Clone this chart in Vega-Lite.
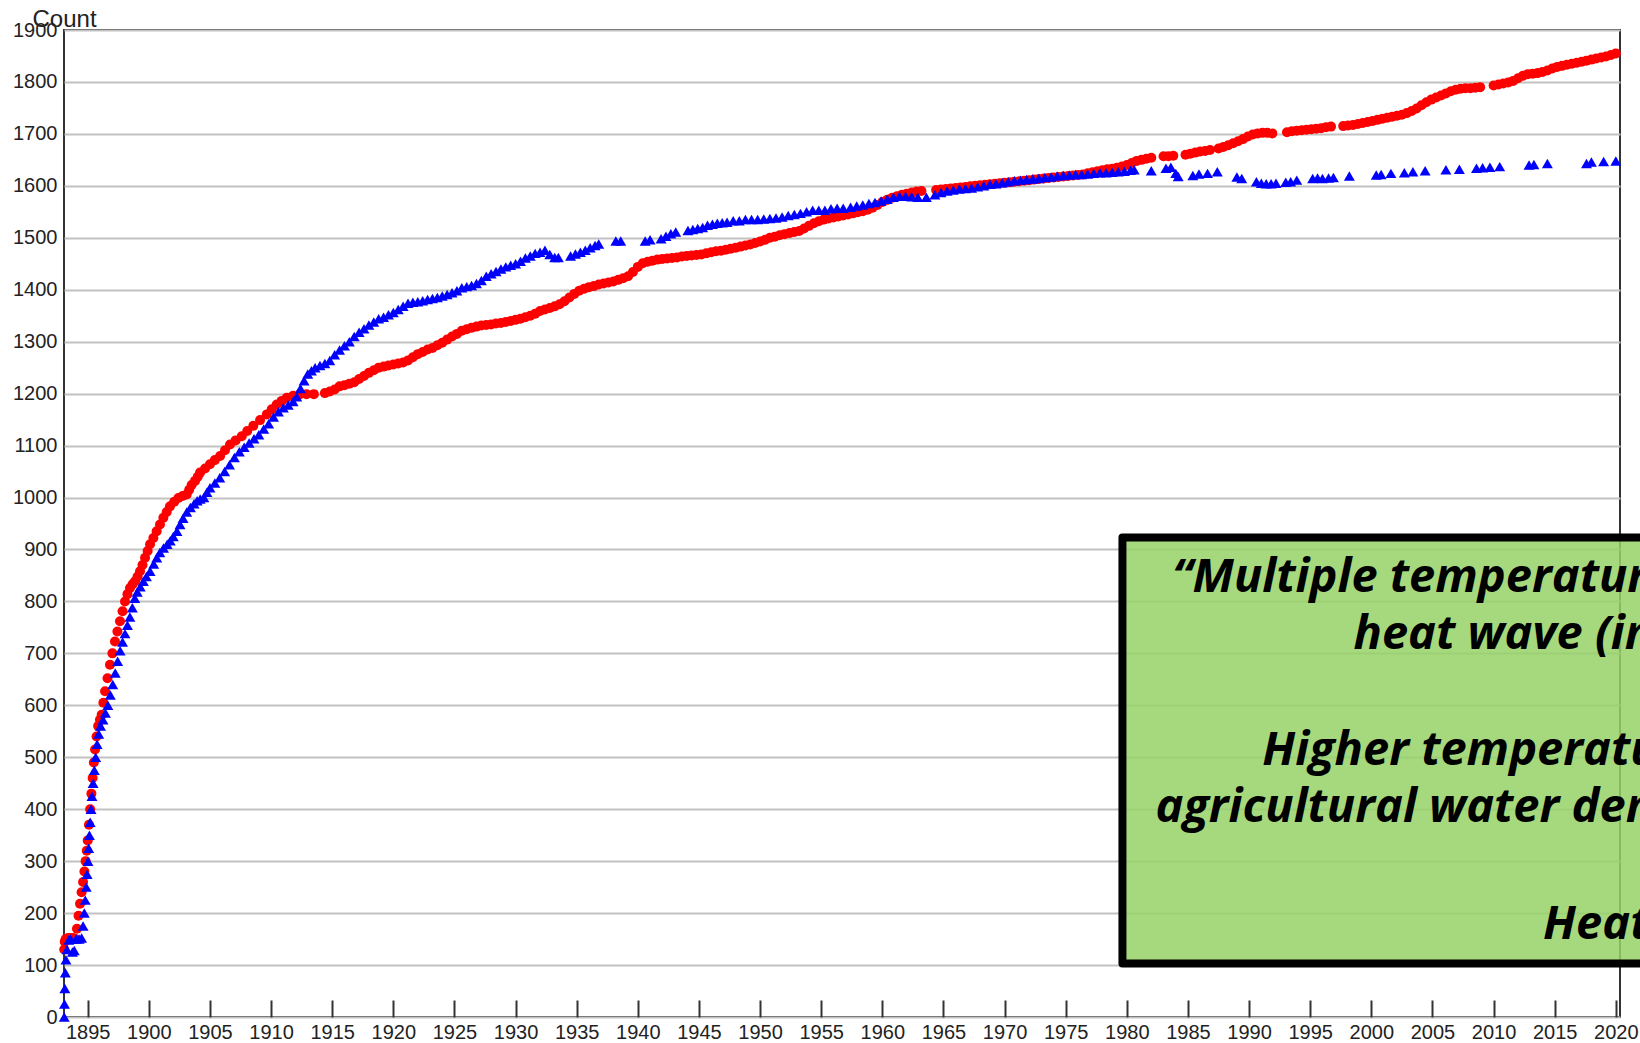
{
  "$schema": "https://vega.github.io/schema/vega-lite/v6.json",
  "width": 1556,
  "height": 987,
  "autosize": {"type": "none"},
  "padding": {"left": 64, "top": 30, "right": 20, "bottom": 26},
  "background": "white",
  "config": {
    "view": {"stroke": "#333333", "strokeWidth": 2},
    "axis": {"labelFont": "Liberation Sans", "labelFontSize": 20, "labelColor": "#222222", "titleFont": "Liberation Sans"}
  },
  "datasets": {
    "highs": [
      {"year":1893.08,"count":130},{"year":1893.12,"count":145},{"year":1893.2,"count":150},{"year":1893.4,"count":152},{"year":1893.6,"count":152},{"year":1893.8,"count":152},{"year":1894.0,"count":150},{"year":1894.12,"count":170},{"year":1894.25,"count":195},{"year":1894.37,"count":218},{"year":1894.5,"count":240},{"year":1894.62,"count":260},{"year":1894.73,"count":280},{"year":1894.83,"count":300},{"year":1894.92,"count":320},{"year":1895.0,"count":340},{"year":1895.1,"count":370},{"year":1895.2,"count":400},{"year":1895.3,"count":430},{"year":1895.4,"count":460},{"year":1895.5,"count":490},{"year":1895.6,"count":515},{"year":1895.72,"count":540},{"year":1895.85,"count":560},{"year":1896.0,"count":572},{"year":1896.14,"count":582},{"year":1896.28,"count":605},{"year":1896.42,"count":627},{"year":1896.62,"count":652},{"year":1896.82,"count":678},{"year":1897.02,"count":700},{"year":1897.23,"count":723},{"year":1897.43,"count":742},{"year":1897.64,"count":762},{"year":1897.85,"count":781},{"year":1898.05,"count":800},{"year":1898.25,"count":814},{"year":1898.46,"count":826},{"year":1898.67,"count":833},{"year":1898.87,"count":839},{"year":1899.08,"count":848},{"year":1899.28,"count":858},{"year":1899.48,"count":870},{"year":1899.69,"count":884},{"year":1899.9,"count":897},{"year":1900.1,"count":910},{"year":1900.37,"count":922},{"year":1900.64,"count":935},{"year":1900.91,"count":948},{"year":1901.19,"count":961},{"year":1901.46,"count":972},{"year":1901.73,"count":983},{"year":1902.08,"count":992},{"year":1902.42,"count":999},{"year":1902.76,"count":1003},{"year":1903.1,"count":1006},{"year":1903.3,"count":1015},{"year":1903.5,"count":1024},{"year":1903.78,"count":1032},{"year":1904.0,"count":1040},{"year":1904.19,"count":1048},{"year":1904.6,"count":1056},{"year":1905.0,"count":1064},{"year":1905.4,"count":1072},{"year":1905.83,"count":1080},{"year":1906.23,"count":1091},{"year":1906.64,"count":1102},{"year":1907.1,"count":1110},{"year":1907.6,"count":1118},{"year":1908.05,"count":1128},{"year":1908.55,"count":1138},{"year":1909.1,"count":1149},{"year":1909.65,"count":1160},{"year":1910.05,"count":1170},{"year":1910.46,"count":1179},{"year":1910.87,"count":1186},{"year":1911.28,"count":1192},{"year":1911.8,"count":1196},{"year":1912.37,"count":1199},{"year":1912.9,"count":1199},{"year":1913.5,"count":1199},
      {"year":1914.4,"count":1201},{"year":1914.8,"count":1204},{"year":1915.2,"count":1208},{"year":1915.6,"count":1214},{"year":1916.0,"count":1216},{"year":1916.4,"count":1219},{"year":1916.8,"count":1222},{"year":1917.2,"count":1228},{"year":1917.6,"count":1234},{"year":1918.0,"count":1240},{"year":1918.4,"count":1245},{"year":1918.8,"count":1250},{"year":1919.2,"count":1252},{"year":1919.6,"count":1254},{"year":1920.0,"count":1256},{"year":1920.4,"count":1258},{"year":1920.8,"count":1260},{"year":1921.2,"count":1264},{"year":1921.6,"count":1270},{"year":1922.0,"count":1276},{"year":1922.4,"count":1280},{"year":1922.8,"count":1285},{"year":1923.2,"count":1288},{"year":1923.6,"count":1293},{"year":1924.0,"count":1298},{"year":1924.4,"count":1304},{"year":1924.8,"count":1310},{"year":1925.2,"count":1315},{"year":1925.6,"count":1321},{"year":1926.0,"count":1324},{"year":1926.4,"count":1327},{"year":1926.8,"count":1329},{"year":1927.2,"count":1331},{"year":1927.6,"count":1332},{"year":1928.0,"count":1333},{"year":1928.4,"count":1335},{"year":1928.8,"count":1336},{"year":1929.2,"count":1338},{"year":1929.6,"count":1340},{"year":1930.0,"count":1342},{"year":1930.4,"count":1344},{"year":1930.8,"count":1347},{"year":1931.2,"count":1350},{"year":1931.6,"count":1354},{"year":1932.0,"count":1359},{"year":1932.4,"count":1362},{"year":1932.8,"count":1365},{"year":1933.2,"count":1368},{"year":1933.6,"count":1372},{"year":1934.0,"count":1378},{"year":1934.4,"count":1385},{"year":1934.8,"count":1392},{"year":1935.2,"count":1398},{"year":1935.6,"count":1402},{"year":1936.0,"count":1405},{"year":1936.4,"count":1407},{"year":1936.8,"count":1410},{"year":1937.2,"count":1412},{"year":1937.6,"count":1414},{"year":1938.0,"count":1416},{"year":1938.4,"count":1419},{"year":1938.8,"count":1422},{"year":1939.2,"count":1426},{"year":1939.6,"count":1434},{"year":1940.0,"count":1444},{"year":1940.4,"count":1451},{"year":1940.8,"count":1454},{"year":1941.2,"count":1456},{"year":1941.6,"count":1458},{"year":1942.0,"count":1459},{"year":1942.4,"count":1460},{"year":1942.8,"count":1461},{"year":1943.2,"count":1462},{"year":1943.6,"count":1464},{"year":1944.0,"count":1465},{"year":1944.4,"count":1466},{"year":1944.8,"count":1467},{"year":1945.2,"count":1468},{"year":1945.6,"count":1470},{"year":1946.0,"count":1472},{"year":1946.4,"count":1474},{"year":1946.8,"count":1475},{"year":1947.2,"count":1477},{"year":1947.6,"count":1479},{"year":1948.0,"count":1481},{"year":1948.4,"count":1483},{"year":1948.8,"count":1485},{"year":1949.2,"count":1487},{"year":1949.6,"count":1490},{"year":1950.0,"count":1493},{"year":1950.4,"count":1496},{"year":1950.8,"count":1500},{"year":1951.2,"count":1502},{"year":1951.6,"count":1505},{"year":1952.0,"count":1507},{"year":1952.4,"count":1509},{"year":1952.8,"count":1511},{"year":1953.2,"count":1513},{"year":1953.6,"count":1518},{"year":1954.0,"count":1523},{"year":1954.4,"count":1528},{"year":1954.8,"count":1532},{"year":1955.2,"count":1535},{"year":1955.6,"count":1537},{"year":1956.0,"count":1539},{"year":1956.4,"count":1541},{"year":1956.8,"count":1543},{"year":1957.2,"count":1545},{"year":1957.6,"count":1547},{"year":1958.0,"count":1549},{"year":1958.4,"count":1551},{"year":1958.8,"count":1554},{"year":1959.2,"count":1558},{"year":1959.6,"count":1563},{"year":1960.0,"count":1569},{"year":1960.4,"count":1573},{"year":1960.8,"count":1577},{"year":1961.2,"count":1580},{"year":1961.6,"count":1583},{"year":1962.0,"count":1585},{"year":1962.4,"count":1587},{"year":1962.8,"count":1589},{"year":1963.2,"count":1590},
      {"year":1964.4,"count":1592},{"year":1964.8,"count":1593},{"year":1965.2,"count":1594},{"year":1965.6,"count":1595},{"year":1966.0,"count":1596},{"year":1966.4,"count":1597},{"year":1966.8,"count":1598},{"year":1967.2,"count":1599},{"year":1967.6,"count":1600},{"year":1968.0,"count":1601},{"year":1968.4,"count":1602},{"year":1968.8,"count":1603},{"year":1969.2,"count":1604},{"year":1969.6,"count":1605},{"year":1970.0,"count":1606},{"year":1970.4,"count":1607},{"year":1970.8,"count":1608},{"year":1971.2,"count":1609},{"year":1971.6,"count":1610},{"year":1972.0,"count":1611},{"year":1972.4,"count":1612},{"year":1972.8,"count":1613},{"year":1973.2,"count":1614},{"year":1973.6,"count":1615},{"year":1974.0,"count":1616},{"year":1974.4,"count":1617},{"year":1974.8,"count":1618},{"year":1975.2,"count":1619},{"year":1975.6,"count":1620},{"year":1976.0,"count":1621},{"year":1976.4,"count":1622},{"year":1976.8,"count":1624},{"year":1977.2,"count":1626},{"year":1977.6,"count":1628},{"year":1978.0,"count":1630},{"year":1978.4,"count":1632},{"year":1978.8,"count":1633},{"year":1979.2,"count":1635},{"year":1979.6,"count":1637},{"year":1980.0,"count":1640},{"year":1980.4,"count":1644},{"year":1980.8,"count":1648},{"year":1981.2,"count":1650},{"year":1981.6,"count":1652},{"year":1982.0,"count":1654},
      {"year":1983.0,"count":1657},{"year":1983.4,"count":1657},{"year":1983.8,"count":1658},{"year":1984.8,"count":1660},{"year":1985.2,"count":1662},{"year":1985.6,"count":1664},{"year":1986.0,"count":1666},{"year":1986.4,"count":1667},{"year":1986.8,"count":1669},{"year":1987.5,"count":1672},{"year":1987.9,"count":1675},{"year":1988.3,"count":1678},{"year":1988.7,"count":1682},{"year":1989.1,"count":1686},{"year":1989.5,"count":1690},{"year":1989.9,"count":1695},{"year":1990.3,"count":1699},{"year":1990.7,"count":1701},{"year":1991.1,"count":1702},{"year":1991.5,"count":1702},{"year":1991.9,"count":1701},
      {"year":1993.1,"count":1703},{"year":1993.5,"count":1705},{"year":1993.9,"count":1706},{"year":1994.3,"count":1707},{"year":1994.7,"count":1708},{"year":1995.1,"count":1709},{"year":1995.5,"count":1710},{"year":1995.9,"count":1711},{"year":1996.3,"count":1713},{"year":1996.7,"count":1714},
      {"year":1997.7,"count":1715},{"year":1998.1,"count":1716},{"year":1998.5,"count":1717},{"year":1998.9,"count":1719},{"year":1999.3,"count":1721},{"year":1999.7,"count":1723},{"year":2000.1,"count":1725},{"year":2000.5,"count":1727},{"year":2000.9,"count":1729},{"year":2001.3,"count":1731},{"year":2001.7,"count":1733},{"year":2002.1,"count":1735},{"year":2002.5,"count":1737},{"year":2002.9,"count":1740},{"year":2003.3,"count":1744},{"year":2003.7,"count":1749},{"year":2004.1,"count":1755},{"year":2004.5,"count":1761},{"year":2004.9,"count":1766},{"year":2005.3,"count":1770},{"year":2005.7,"count":1774},{"year":2006.1,"count":1778},{"year":2006.5,"count":1782},{"year":2006.9,"count":1785},{"year":2007.3,"count":1787},{"year":2007.7,"count":1788},{"year":2008.1,"count":1788},{"year":2008.5,"count":1789},{"year":2008.9,"count":1790},
      {"year":2010.0,"count":1793},{"year":2010.4,"count":1795},{"year":2010.8,"count":1797},{"year":2011.2,"count":1799},{"year":2011.6,"count":1802},{"year":2012.0,"count":1807},{"year":2012.4,"count":1812},{"year":2012.8,"count":1815},{"year":2013.2,"count":1816},{"year":2013.6,"count":1817},{"year":2014.0,"count":1819},{"year":2014.4,"count":1822},{"year":2014.8,"count":1826},{"year":2015.2,"count":1829},{"year":2015.6,"count":1831},{"year":2016.0,"count":1833},{"year":2016.4,"count":1835},{"year":2016.8,"count":1837},{"year":2017.2,"count":1839},{"year":2017.6,"count":1841},{"year":2018.0,"count":1843},{"year":2018.4,"count":1845},{"year":2018.8,"count":1847},{"year":2019.2,"count":1849},{"year":2019.6,"count":1852},{"year":2020.0,"count":1855}
    ],
    "lows": [
      {"year":1893.08,"count":0},{"year":1893.1,"count":25},{"year":1893.13,"count":55},{"year":1893.17,"count":85},{"year":1893.22,"count":110},{"year":1893.3,"count":130},{"year":1893.45,"count":148},{"year":1893.6,"count":150},{"year":1893.75,"count":125},{"year":1893.9,"count":128},{"year":1894.05,"count":150},{"year":1894.3,"count":150},{"year":1894.5,"count":152},{"year":1894.62,"count":175},{"year":1894.72,"count":200},{"year":1894.8,"count":225},{"year":1894.88,"count":250},{"year":1894.95,"count":275},{"year":1895.02,"count":300},{"year":1895.08,"count":325},{"year":1895.14,"count":350},{"year":1895.2,"count":375},{"year":1895.27,"count":400},{"year":1895.35,"count":425},{"year":1895.44,"count":450},{"year":1895.54,"count":475},{"year":1895.65,"count":500},{"year":1895.77,"count":525},{"year":1895.9,"count":545},{"year":1896.05,"count":560},{"year":1896.25,"count":572},{"year":1896.45,"count":585},{"year":1896.65,"count":600},{"year":1896.85,"count":620},{"year":1897.05,"count":640},{"year":1897.25,"count":662},{"year":1897.45,"count":685},{"year":1897.65,"count":705},{"year":1897.85,"count":722},{"year":1898.05,"count":738},{"year":1898.25,"count":754},{"year":1898.45,"count":770},{"year":1898.65,"count":788},{"year":1898.85,"count":806},{"year":1899.05,"count":818},{"year":1899.3,"count":828},{"year":1899.55,"count":839},{"year":1899.8,"count":848},{"year":1900.1,"count":858},{"year":1900.4,"count":872},{"year":1900.65,"count":884},{"year":1900.9,"count":894},{"year":1901.2,"count":903},{"year":1901.5,"count":910},{"year":1901.75,"count":917},{"year":1902.0,"count":925},{"year":1902.3,"count":935},{"year":1902.55,"count":948},{"year":1902.8,"count":960},{"year":1903.1,"count":972},{"year":1903.4,"count":981},{"year":1903.7,"count":988},{"year":1903.95,"count":994},{"year":1904.2,"count":997},{"year":1904.5,"count":1000},{"year":1904.75,"count":1010},{"year":1905.0,"count":1019},{"year":1905.4,"count":1028},{"year":1905.8,"count":1038},{"year":1906.2,"count":1050},{"year":1906.6,"count":1063},{"year":1907.0,"count":1077},{"year":1907.4,"count":1088},{"year":1907.8,"count":1097},{"year":1908.2,"count":1105},{"year":1908.6,"count":1113},{"year":1909.0,"count":1121},{"year":1909.4,"count":1132},{"year":1909.8,"count":1142},{"year":1910.2,"count":1155},{"year":1910.6,"count":1165},{"year":1911.0,"count":1173},{"year":1911.4,"count":1178},{"year":1911.8,"count":1185},{"year":1912.1,"count":1194},{"year":1912.4,"count":1210},{"year":1912.7,"count":1225},{"year":1913.0,"count":1238},{"year":1913.3,"count":1244},{"year":1913.6,"count":1250},{"year":1914.0,"count":1254},{"year":1914.4,"count":1258},{"year":1914.8,"count":1264},{"year":1915.2,"count":1275},{"year":1915.6,"count":1284},{"year":1916.0,"count":1292},{"year":1916.4,"count":1300},{"year":1916.8,"count":1310},{"year":1917.2,"count":1318},{"year":1917.6,"count":1325},{"year":1918.0,"count":1332},{"year":1918.4,"count":1338},{"year":1918.8,"count":1344},{"year":1919.2,"count":1347},{"year":1919.6,"count":1352},{"year":1920.0,"count":1356},{"year":1920.4,"count":1362},{"year":1920.8,"count":1368},{"year":1921.2,"count":1374},{"year":1921.6,"count":1376},{"year":1922.0,"count":1377},{"year":1922.4,"count":1379},{"year":1922.8,"count":1381},{"year":1923.2,"count":1383},{"year":1923.6,"count":1385},{"year":1924.0,"count":1388},{"year":1924.4,"count":1391},{"year":1924.8,"count":1394},{"year":1925.2,"count":1398},{"year":1925.6,"count":1404},{"year":1926.0,"count":1406},{"year":1926.4,"count":1408},{"year":1926.8,"count":1412},{"year":1927.2,"count":1418},{"year":1927.6,"count":1426},{"year":1928.0,"count":1431},{"year":1928.4,"count":1435},{"year":1928.8,"count":1440},{"year":1929.2,"count":1444},{"year":1929.6,"count":1447},{"year":1930.0,"count":1450},{"year":1930.4,"count":1455},{"year":1930.8,"count":1461},{"year":1931.2,"count":1465},{"year":1931.6,"count":1470},{"year":1932.0,"count":1472},{"year":1932.4,"count":1476},{"year":1932.8,"count":1468},{"year":1933.2,"count":1462},{"year":1933.5,"count":1462},
      {"year":1934.5,"count":1465},{"year":1934.9,"count":1469},{"year":1935.3,"count":1472},{"year":1935.7,"count":1476},{"year":1936.1,"count":1481},{"year":1936.5,"count":1485},{"year":1936.8,"count":1488},{"year":1938.2,"count":1494},{"year":1938.6,"count":1494},{"year":1940.6,"count":1494},{"year":1941.0,"count":1496},{"year":1941.9,"count":1498},{"year":1942.3,"count":1503},{"year":1942.7,"count":1508},{"year":1943.1,"count":1511},{"year":1944.1,"count":1514},{"year":1944.5,"count":1516},{"year":1944.9,"count":1518},{"year":1945.3,"count":1520},{"year":1945.7,"count":1524},{"year":1946.1,"count":1526},{"year":1946.5,"count":1528},{"year":1946.9,"count":1529},{"year":1947.3,"count":1530},{"year":1947.8,"count":1533},{"year":1948.3,"count":1533},{"year":1948.8,"count":1535},{"year":1949.3,"count":1535},{"year":1949.8,"count":1535},{"year":1950.3,"count":1536},{"year":1950.8,"count":1537},{"year":1951.3,"count":1538},{"year":1951.8,"count":1540},{"year":1952.3,"count":1543},{"year":1952.8,"count":1545},{"year":1953.3,"count":1547},{"year":1953.8,"count":1550},{"year":1954.3,"count":1553},{"year":1954.8,"count":1553},{"year":1955.3,"count":1553},{"year":1955.8,"count":1556},{"year":1956.3,"count":1557},{"year":1956.8,"count":1557},{"year":1957.4,"count":1559},{"year":1957.9,"count":1561},{"year":1958.4,"count":1563},{"year":1958.9,"count":1566},{"year":1959.4,"count":1568},{"year":1959.9,"count":1571},{"year":1960.4,"count":1574},{"year":1960.9,"count":1578},{"year":1961.4,"count":1580},{"year":1961.9,"count":1580},{"year":1962.4,"count":1579},{"year":1962.9,"count":1578},{"year":1963.6,"count":1578},
      {"year":1964.3,"count":1583},{"year":1964.8,"count":1587},{"year":1965.3,"count":1590},{"year":1965.8,"count":1592},{"year":1966.3,"count":1594},{"year":1966.8,"count":1595},{"year":1967.3,"count":1596},{"year":1967.8,"count":1598},{"year":1968.3,"count":1600},{"year":1968.8,"count":1603},{"year":1969.3,"count":1604},{"year":1969.8,"count":1606},{"year":1970.3,"count":1608},{"year":1970.8,"count":1610},{"year":1971.3,"count":1611},{"year":1971.8,"count":1612},{"year":1972.3,"count":1613},{"year":1972.8,"count":1614},{"year":1973.3,"count":1616},{"year":1973.8,"count":1617},{"year":1974.3,"count":1619},{"year":1974.8,"count":1620},{"year":1975.3,"count":1621},{"year":1975.8,"count":1622},{"year":1976.3,"count":1622},{"year":1976.8,"count":1623},{"year":1977.3,"count":1624},{"year":1977.8,"count":1625},{"year":1978.3,"count":1625},{"year":1978.8,"count":1626},{"year":1979.3,"count":1627},{"year":1979.8,"count":1628},{"year":1980.3,"count":1630},{"year":1980.6,"count":1631},
      {"year":1982.0,"count":1629},{"year":1983.2,"count":1634},{"year":1983.6,"count":1636},{"year":1984.0,"count":1624},{"year":1984.2,"count":1618},{"year":1985.4,"count":1620},{"year":1985.9,"count":1623},{"year":1986.6,"count":1624},{"year":1987.4,"count":1627},{"year":1989.0,"count":1617},{"year":1989.4,"count":1614},{"year":1990.6,"count":1608},{"year":1991.0,"count":1605},{"year":1991.4,"count":1604},{"year":1991.8,"count":1604},{"year":1992.2,"count":1605},{"year":1993.0,"count":1607},{"year":1993.4,"count":1608},{"year":1993.9,"count":1611},{"year":1995.2,"count":1614},{"year":1995.6,"count":1615},{"year":1996.0,"count":1614},{"year":1996.5,"count":1615},{"year":1996.9,"count":1616},{"year":1998.2,"count":1619},{"year":2000.4,"count":1621},{"year":2000.8,"count":1622},{"year":2001.6,"count":1624},{"year":2002.7,"count":1625},{"year":2003.4,"count":1627},{"year":2004.4,"count":1629},{"year":2006.1,"count":1631},{"year":2007.2,"count":1632},{"year":2008.6,"count":1634},{"year":2009.1,"count":1635},{"year":2009.7,"count":1636},{"year":2010.5,"count":1637},{"year":2012.9,"count":1640},{"year":2013.3,"count":1641},{"year":2014.4,"count":1643},{"year":2017.6,"count":1643},{"year":2018.0,"count":1646},{"year":2019.0,"count":1647},{"year":2020.0,"count":1648}
    ]
  },
  "layer": [
    {
      "data": {"name": "highs"},
      "mark": {"type": "point", "shape": "circle", "filled": true, "color": "#ff0000", "opacity": 1, "size": 100},
      "encoding": {
        "x": {
          "field": "year", "type": "quantitative",
          "scale": {"domain": [1893.06, 2020.34], "nice": false, "zero": false},
          "axis": {
            "title": null, "grid": false, "domain": false,
            "values": [1895,1900,1905,1910,1915,1920,1925,1930,1935,1940,1945,1950,1955,1960,1965,1970,1975,1980,1985,1990,1995,2000,2005,2010,2015,2020],
            "format": "d", "tickSize": -17, "tickWidth": 2, "tickColor": "#333333",
            "labelPadding": 22, "labelBaseline": "top"
          }
        },
        "y": {
          "field": "count", "type": "quantitative",
          "scale": {"domain": [0, 1900], "nice": false},
          "axis": {
            "title": "Count", "titleAngle": 0, "titleX": -32, "titleY": -4, "titleAlign": "left", "titleBaseline": "alphabetic",
            "titleFontSize": 24, "titleFontWeight": "normal", "titleColor": "#222222",
            "values": [0,100,200,300,400,500,600,700,800,900,1000,1100,1200,1300,1400,1500,1600,1700,1800,1900],
            "format": "d", "ticks": false, "domain": false, "labelPadding": 7,
            "grid": true, "gridColor": "#c2c2c2", "gridWidth": 2
          }
        }
      }
    },
    {
      "data": {"name": "lows"},
      "mark": {"type": "point", "shape": "triangle-up", "filled": true, "color": "#0000ff", "opacity": 1, "size": 120},
      "encoding": {
        "x": {"field": "year", "type": "quantitative"},
        "y": {"field": "count", "type": "quantitative"}
      }
    },
    {
      "data": {"values": [{"note": "box"}]},
      "mark": {"type": "rect", "fill": "#96d267", "fillOpacity": 0.85, "stroke": "#000000", "strokeWidth": 8, "strokeJoin": "round"},
      "encoding": {
        "x": {"datum": 1979.64, "type": "quantitative"}, "x2": {"datum": 2045},
        "y": {"datum": 923, "type": "quantitative"}, "y2": {"datum": 103}
      }
    },
    {
      "data": {"values": [{"line": "“Multiple temperature"}]},
      "mark": {"type": "text", "align": "left", "baseline": "alphabetic", "font": "Open Sans", "fontStyle": "italic", "fontWeight": "bold", "fontSize": 47, "color": "#000000"},
      "encoding": {"x": {"datum": 1983.71, "type": "quantitative"}, "y": {"datum": 818, "type": "quantitative"}, "text": {"field": "line"}}
    },
    {
      "data": {"values": [{"line": "heat wave (in"}]},
      "mark": {"type": "text", "align": "left", "baseline": "alphabetic", "font": "Open Sans", "fontStyle": "italic", "fontWeight": "bold", "fontSize": 47, "color": "#000000"},
      "encoding": {"x": {"datum": 1998.54, "type": "quantitative"}, "y": {"datum": 709, "type": "quantitative"}, "text": {"field": "line"}}
    },
    {
      "data": {"values": [{"line": "Higher temperatures"}]},
      "mark": {"type": "text", "align": "left", "baseline": "alphabetic", "font": "Open Sans", "fontStyle": "italic", "fontWeight": "bold", "fontSize": 47, "color": "#000000"},
      "encoding": {"x": {"datum": 1991.08, "type": "quantitative"}, "y": {"datum": 484.5, "type": "quantitative"}, "text": {"field": "line"}}
    },
    {
      "data": {"values": [{"line": "agricultural water demand"}]},
      "mark": {"type": "text", "align": "left", "baseline": "alphabetic", "font": "Open Sans", "fontStyle": "italic", "fontWeight": "bold", "fontSize": 47, "color": "#000000"},
      "encoding": {"x": {"datum": 1982.34, "type": "quantitative"}, "y": {"datum": 375.4, "type": "quantitative"}, "text": {"field": "line"}}
    },
    {
      "data": {"values": [{"line": "Heat"}]},
      "mark": {"type": "text", "align": "left", "baseline": "alphabetic", "font": "Open Sans", "fontStyle": "italic", "fontWeight": "bold", "fontSize": 47, "color": "#000000"},
      "encoding": {"x": {"datum": 2014.05, "type": "quantitative"}, "y": {"datum": 151, "type": "quantitative"}, "text": {"field": "line"}}
    }
  ]
}
